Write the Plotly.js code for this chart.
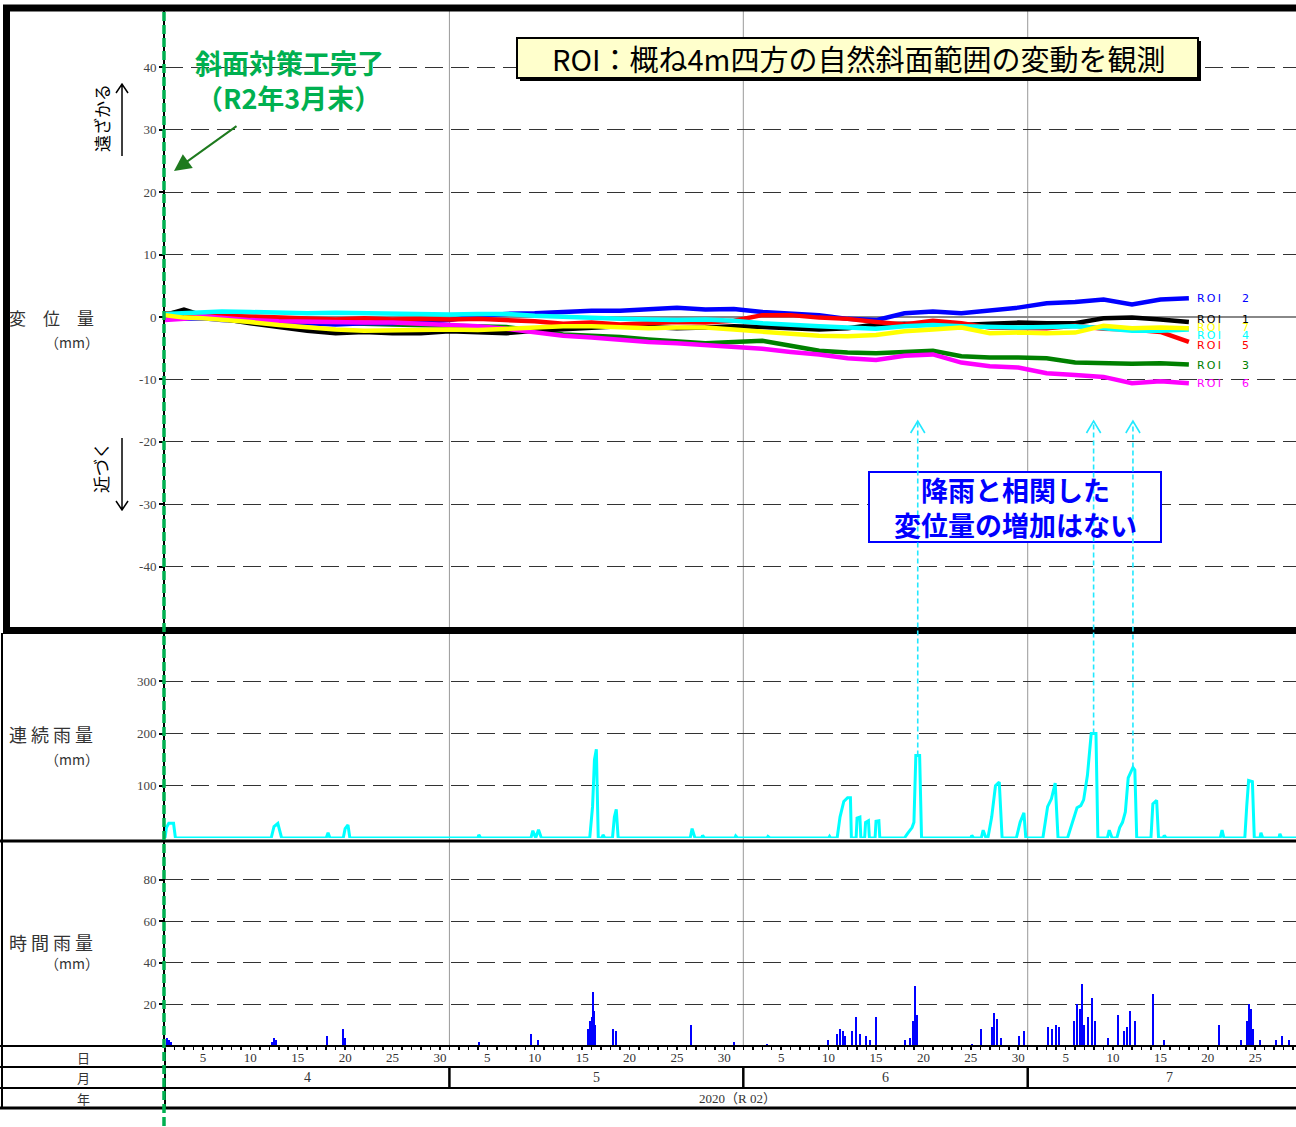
<!DOCTYPE html>
<html><head><meta charset="utf-8">
<script src="https://cdn.plot.ly/plotly-3.0.1.min.js"></script>
<style>html,body{margin:0;padding:0;background:#fff}#chart{width:1296px;height:1127px}</style>
</head><body><div id="chart"></div>
<script>
// ---------------- DATA ----------------
// day offsets from 2020-04-01 00:00
const roiDays = [0,2,4,6,9,12,15,18,21,24,27,30,33,36,39,42,45,48,51,54,57,60,63,66,69,72,75,78,81,84,87,90,93,96,99,102,105,108];
const roi1 = [0.3,1.2,0.2,-0.3,-1.0,-1.6,-2.2,-2.6,-2.4,-2.6,-2.6,-2.3,-2.4,-2.6,-2.2,-2.0,-1.8,-1.5,-1.6,-1.8,-1.7,-1.5,-1.6,-1.8,-2.0,-1.8,-1.2,-1.1,-1.2,-1.3,-1.1,-0.9,-1.0,-1.0,-0.2,-0.1,-0.4,-0.8];
const roi2 = [-0.3,-0.3,-0.2,-0.5,-0.8,-1.0,-1.0,-1.2,-1.0,-1.0,-0.8,-0.5,0.2,0.5,0.6,0.8,1.0,1.0,1.3,1.5,1.2,1.3,0.8,0.5,0.3,-0.3,-0.5,0.6,0.9,0.6,1.0,1.5,2.2,2.4,2.8,2.0,2.8,3.0];
const roi3 = [0.5,0.8,0.3,0.0,-0.3,-0.6,-0.8,-1.0,-1.1,-1.2,-1.3,-1.3,-1.4,-1.6,-2.2,-2.8,-3.0,-3.2,-3.6,-3.9,-4.2,-4.0,-3.8,-4.6,-5.4,-5.7,-5.8,-5.6,-5.4,-6.3,-6.5,-6.5,-6.6,-7.3,-7.4,-7.5,-7.4,-7.6];
const roi4 = [0.5,0.6,0.8,0.9,0.8,0.7,0.6,0.7,0.6,0.5,0.4,0.4,0.5,0.5,0.2,0.0,-0.2,-0.3,-0.4,-0.5,-0.4,-0.6,-1.0,-1.3,-1.5,-1.7,-1.9,-1.5,-1.3,-1.5,-1.6,-1.7,-1.6,-1.5,-1.8,-2.2,-2.2,-2.0];
const roi5 = [0.6,0.3,0.5,0.2,0.1,-0.1,-0.3,-0.4,-0.2,-0.4,-0.3,-0.4,-0.3,-0.5,-0.7,-1.1,-0.9,-1.2,-1.0,-0.8,-0.9,-0.6,0.3,0.3,-0.1,-0.3,-0.8,-1.2,-0.6,-1.0,-1.7,-1.8,-1.8,-1.4,-1.9,-2.0,-2.4,-4.0];
const roi6 = [-0.5,-0.3,0.1,-0.2,-0.5,-0.7,-0.8,-0.8,-0.9,-0.9,-1.1,-1.2,-1.5,-1.9,-2.5,-3.0,-3.3,-3.7,-4.0,-4.2,-4.5,-4.8,-5.1,-5.6,-6.0,-6.6,-6.9,-6.2,-6.0,-7.3,-7.9,-8.1,-9.0,-9.3,-9.6,-10.6,-10.3,-10.6];
const roi7 = [0.3,-0.1,-0.2,-0.4,-0.8,-1.3,-1.7,-2.0,-2.2,-2.1,-2.0,-2.0,-2.1,-1.9,-1.7,-1.5,-1.5,-1.6,-1.8,-1.7,-1.7,-2.0,-2.4,-2.7,-3.0,-3.1,-2.9,-2.3,-2.0,-1.7,-2.6,-2.5,-2.6,-2.5,-1.4,-1.8,-1.7,-1.8];
// end-label positions (mm), slightly spread so they stay readable
const roiLabelY = {'1': -0.4, '2': 2.9, '3': -7.7, '4': -3.0, '5': -4.5, '6': -10.7, '7': -1.7};

// continuous rainfall (mm)
const rainDays = [0,0.15,0.4,0.9,1.1, 11.2,11.5,11.9,12.3, 17.0,17.2,17.4, 18.8,19.0,19.3,19.5, 33.0,33.1,33.3,
  38.6,38.8,39.1,39.4,39.7, 44.8,45.1,45.3,45.5,45.7, 46.1,46.2,46.4, 47.2,47.4,47.6,47.8, 55.4,55.6,55.9,
  56.6,56.7,56.9, 60.1,60.2,60.4, 63.5,63.6,63.8, 70.0,70.1,70.2, 70.9,71.2,71.6,72.0,72.3,72.4,
  72.9,73.0,73.3,73.4, 73.8,73.9,74.2,74.3, 74.9,75.0,75.3,75.4, 78.0,78.3,78.8,79.0,79.2,79.6,79.8,
  85.0,85.1,85.3, 86.1,86.3,86.6, 86.8,87.2,87.6,88.0,88.3, 89.8,90.2,90.6,90.8, 92.6,93.1,93.5,93.9,94.2,
  95.2,95.6,96.0,96.2,96.6,96.9,97.3,97.7,98.2,98.4, 99.4,99.6,99.9,
  100.4,100.7,101.0,101.3,101.6,102.1,102.3,102.5, 104.0,104.2,104.6,104.8, 105.3,105.4,105.6,
  111.3,111.5,111.7, 113.9,114.1,114.3,114.7,114.9, 115.5,115.6,115.8, 117.5,117.6,117.8, 119.3];
const rainCont = [0,20,28,28,0, 0,22,28,0, 0,10,0, 0,18,25,0, 0,6,0,
  0,14,0,16,0, 0,60,150,170,0, 0,6,0, 0,40,55,0, 0,18,0,
  0,5,0, 0,4,0, 0,3,0, 0,3,0, 0,40,70,77,77,0,
  0,38,40,0, 0,30,33,0, 0,32,33,0, 0,8,20,30,158,158,0,
  0,5,0, 0,15,0, 0,40,100,107,0, 0,30,48,0, 0,60,75,105,0,
  0,25,45,58,62,73,120,200,200,0, 0,15,0,
  0,20,30,50,115,135,130,0, 0,65,72,0, 0,5,0,
  0,15,0, 0,60,110,108,0, 0,10,0, 0,8,0, 0];

// hourly rainfall (mm)
const hourDays = [0.21,0.42,0.63, 11.29,11.5,11.71, 17.09, 18.78,18.99, 33.12, 38.61,39.35,
  44.62,44.83,45.04,45.15,45.25,45.36, 47.26,47.57, 55.49, 60.02, 63.5, 69.94,
  70.89,71.2,71.52,71.73, 72.47,72.89,73.31,73.95,74.37,75.0, 78.06,78.59,78.9,79.11,79.32,
  85.13,86.08, 87.24,87.45,87.76,88.19, 90.08,90.61, 93.14,93.57,93.99,94.3,
  95.89,96.2,96.52,96.73,96.94,97.36,97.78,98.1, 99.47,100.53,101.16,101.48,101.79,102.32,
  104.22,105.38, 111.18,113.5,114.14,114.35,114.56,114.77, 115.51,117.19,117.83,118.57];
const hourMm = [4,3,2, 2,4,3, 5, 8,4, 2, 6,3,
  8,12,14,26,17,10, 8,7, 10, 2, 1, 3,
  6,8,7,5, 7,14,6,5,3,14, 3,4,12,29,15,
  1,8, 9,16,13,4, 5,7, 9,8,10,9,
  12,20,18,30,10,14,23,12, 4,15,7,9,17,12,
  25,3, 10,3,12,20,18,8, 3,3,5,3];

// axis / table labels
const monthLabels = ['4','5','6','7'];
const monthStart = [0,30,61,91];
const monthLen = [30,31,30,31];
const dispTicks = [-40,-30,-20,-10,0,10,20,30,40];
const contTicks = [100,200,300];
const hourTicks = [20,40,60,80];
const yearLabel = '2020（R 02）';
const arrowDays = [79.4, 97.95, 102.1];
const arrowFromMm = [158, 200, 135];

// ---------------- LAYOUT HELPERS ----------------
const W = 1296, H = 1127;
const px = x => x / W;
const py = y => 1 - y / H;
const XMAX = 119.3;

const tickvals = [], ticktext = [];
for (let m = 0; m < monthLabels.length; m++) {
  for (let k = 1; k <= monthLen[m]; k++) {
    const d = monthStart[m] + k - 1;
    if (d > XMAX) break;
    tickvals.push(d);
    ticktext.push(k % 5 === 0 ? String(k) : '');
  }
}

const series = [
  {v: roi3, c: '#008000', n: '3'},
  {v: roi2, c: '#0000FF', n: '2'},
  {v: roi1, c: '#000000', n: '1'},
  {v: roi5, c: '#FF0000', n: '5'},
  {v: roi6, c: '#FF00FF', n: '6'},
  {v: roi4, c: '#00FFFF', n: '4'},
  {v: roi7, c: '#FFFF00', n: '7'}
];

const traces = series.map(s => ({
  type: 'scatter', mode: 'lines', x: roiDays, y: s.v, xaxis: 'x', yaxis: 'y',
  line: {color: s.c, width: 4.5}, hoverinfo: 'skip'
}));
traces.push({type: 'scatter', mode: 'lines', x: rainDays, y: rainCont, xaxis: 'x', yaxis: 'y2',
  line: {color: '#00FFFF', width: 3}, hoverinfo: 'skip'});
traces.push({type: 'bar', x: hourDays, y: hourMm, xaxis: 'x', yaxis: 'y3', width: 0.13,
  marker: {color: '#0000FF', line: {width: 0}}, hoverinfo: 'skip'});

const tickFont = {family: 'Liberation Serif, DejaVu Serif, serif', size: 13, color: '#444'};
const yBase = {
  anchor: 'x', ticks: 'outside', ticklen: 4, tickwidth: 2, tickcolor: '#000',
  showline: true, linecolor: '#000', linewidth: 2, showgrid: true, gridcolor: '#333',
  griddash: '18px,8px', gridwidth: 1.2, tickfont: tickFont, fixedrange: true
};

const shapes = [];
const line = (x0, y0, x1, y1, color, width, extra) => Object.assign({
  type: 'line', xref: 'paper', yref: 'paper', x0: px(x0), y0: py(y0), x1: px(x1), y1: py(y1),
  line: {color: color, width: width}, layer: 'above'}, extra || {});
const pathStr = pts => pts.map((p, i) => (i ? 'L' : 'M') + px(p[0]).toFixed(5) + ',' + py(p[1]).toFixed(5)).join(' ');

// month grid lines
for (let m = 1; m < monthStart.length; m++) {
  shapes.push({type: 'line', xref: 'x', yref: 'paper', x0: monthStart[m], x1: monthStart[m],
    y0: py(1046), y1: py(11), line: {color: '#999', width: 1}, layer: 'below'});
}
// lower frame & table
shapes.push(line(2, 633, 2, 1108, '#000', 2));
shapes.push(line(0, 841, 1296, 841, '#000', 3));
shapes.push(line(0, 1046, 1296, 1046, '#000', 2));
shapes.push(line(0, 1067, 1296, 1067, '#000', 2));
shapes.push(line(0, 1088, 1296, 1088, '#000', 2));
shapes.push(line(0, 1108, 1296, 1108, '#000', 3));
shapes.push(line(165, 1046, 165, 1108, '#000', 2));
for (let m = 1; m < monthStart.length; m++) {
  shapes.push({type: 'line', xref: 'x', yref: 'paper', x0: monthStart[m], x1: monthStart[m],
    y0: py(1067), y1: py(1088), line: {color: '#000', width: 2.5}, layer: 'above'});
}
// thick frame around displacement panel
shapes.push({type: 'rect', xref: 'paper', yref: 'paper', x0: px(6.5), x1: px(1320), y0: py(630.5), y1: py(8),
  line: {color: '#000', width: 7}, fillcolor: 'rgba(0,0,0,0)', layer: 'above'});
// green dashed completion line
shapes.push(line(164, 12, 164, 1127, '#00B050', 3.5, {line: {color: '#00B050', width: 3.5, dash: '9px,4px'}}));
// yellow title box (shadow + box)
shapes.push({type: 'rect', xref: 'paper', yref: 'paper', x0: px(520), x1: px(1201), y0: py(81), y1: py(41),
  line: {width: 0}, fillcolor: '#000', layer: 'above'});
shapes.push({type: 'rect', xref: 'paper', yref: 'paper', x0: px(517), x1: px(1198), y0: py(78), y1: py(38),
  line: {color: '#000', width: 2}, fillcolor: '#FFFFCC', layer: 'above'});
// blue comment box
shapes.push({type: 'rect', xref: 'paper', yref: 'paper', x0: px(869), x1: px(1161), y0: py(542), y1: py(472),
  line: {color: '#0000FF', width: 2}, fillcolor: '#FFFFFF', layer: 'above'});
// direction arrows
shapes.push({type: 'path', xref: 'paper', yref: 'paper', path: pathStr([[122,156],[122,84]]) + ' ' + pathStr([[116,93],[122,84],[128,93]]),
  line: {color: '#000', width: 1.5}, layer: 'above'});
shapes.push({type: 'path', xref: 'paper', yref: 'paper', path: pathStr([[122,438],[122,510]]) + ' ' + pathStr([[116,501],[122,510],[128,501]]),
  line: {color: '#000', width: 1.5}, layer: 'above'});
// cyan dashed arrows from rainfall peaks
const y2Bottom = py(838), y2Top = py(629);
arrowDays.forEach((d, i) => {
  const yStart = y2Bottom + arrowFromMm[i] / 400 * (y2Top - y2Bottom);
  shapes.push({type: 'line', xref: 'x', yref: 'paper', x0: d, x1: d, y0: yStart, y1: py(421),
    line: {color: '#22E8FF', width: 1.6, dash: '5px,3px'}, layer: 'above'});
  shapes.push({type: 'path', xref: 'x', yref: 'paper',
    path: 'M' + (d - 0.75) + ',' + py(433) + ' L' + d + ',' + py(421) + ' L' + (d + 0.75) + ',' + py(433),
    line: {color: '#22E8FF', width: 1.6}, layer: 'above'});
});

const cjk = 'Noto Sans CJK JP, sans-serif';
const ann = [];
const txt = (x, y, text, font, extra) => Object.assign({xref: 'paper', yref: 'paper', x: px(x), y: py(y),
  text: text, showarrow: false, font: font, xanchor: 'center', yanchor: 'middle'}, extra || {});
const lblFont = {family: cjk, size: 17, color: '#333'};
const mmFont = {family: cjk, size: 14, color: '#333'};
ann.push(txt(51, 317, '変　位　量', lblFont));
ann.push(txt(72, 342, '（mm）', mmFont));
ann.push(txt(51, 734, '連 続 雨 量', {family: cjk, size: 18, color: '#333'}));
ann.push(txt(72, 759, '（mm）', mmFont));
ann.push(txt(51, 942, '時 間 雨 量', {family: cjk, size: 18, color: '#333'}));
ann.push(txt(72, 963, '（mm）', mmFont));
ann.push(txt(101, 118, '遠ざかる', {family: cjk, size: 17, color: '#000'}, {textangle: -90}));
ann.push(txt(101, 468, '近づく', {family: cjk, size: 17, color: '#000'}, {textangle: -90}));
// table row labels
const rowFont = {family: cjk, size: 13, color: '#333'};
ann.push(txt(83, 1057, '日', rowFont));
ann.push(txt(83, 1077, '月', rowFont));
ann.push(txt(83, 1098, '年', rowFont));
const serif = {family: 'Liberation Serif, DejaVu Serif, serif', size: 14, color: '#333'};
monthLabels.forEach((m, i) => {
  ann.push({xref: 'x', yref: 'paper', x: Math.min(monthStart[i] + monthLen[i] / 2, 106), y: py(1077), text: m,
    showarrow: false, font: serif, xanchor: 'center', yanchor: 'middle'});
});
ann.push(txt(737, 1098, yearLabel, {family: 'Liberation Serif, Noto Sans CJK JP, serif', size: 13, color: '#333'}));
// ROI labels at line ends
const lastDay = roiDays[roiDays.length - 1];
series.forEach(s => {
  ann.push({xref: 'x', yref: 'y', x: lastDay + 0.6, y: roiLabelY[s.n],
    text: 'R\u2009O\u2009I\u00A0\u00A0\u00A0\u00A0\u00A0\u00A0' + s.n,
    showarrow: false, xanchor: 'left', yanchor: 'middle',
    font: {family: 'DejaVu Sans, sans-serif', size: 11, color: s.c}});
});
// green annotation
const green = {family: cjk, size: 27, color: '#00B050', weight: 700};
ann.push(txt(289, 63, '<b>斜面対策工完了</b>', green));
ann.push(txt(288, 97, '<b>（R2年3月末）</b>', green));
ann.push({xref: 'paper', yref: 'paper', x: px(174), y: py(171), ax: 64, ay: -46, text: '', showarrow: true,
  arrowcolor: '#1E7A1E', arrowwidth: 2, arrowhead: 2, arrowsize: 1.7});
// title box text
ann.push(txt(858, 58, 'ROI：概ね4m四方の自然斜面範囲の変動を観測', {family: cjk, size: 29, color: '#000'}));
// blue box text
ann.push(txt(1015, 507, '<b>降雨と相関した</b><br><b>変位量の増加はない</b>', {family: cjk, size: 27, color: '#0000FF'}));

const layout = {
  width: W, height: H, margin: {l: 0, r: 0, t: 0, b: 0},
  paper_bgcolor: '#fff', plot_bgcolor: 'rgba(0,0,0,0)', showlegend: false,
  xaxis: {domain: [px(165), 1], range: [0, XMAX], anchor: 'y3', tickmode: 'array', tickvals: tickvals, ticktext: ticktext,
    ticks: 'outside', ticklen: 3, tickwidth: 1.5, tickcolor: '#000', showgrid: false, zeroline: false, showline: false,
    tickangle: 0, ticklabelstandoff: -4,
    tickfont: {family: 'Liberation Serif, DejaVu Serif, serif', size: 13, color: '#333'}, fixedrange: true},
  yaxis: Object.assign({}, yBase, {domain: [py(629), py(5)], range: [-50, 50], tickmode: 'array',
    tickvals: dispTicks, ticktext: dispTicks.map(String), zeroline: true, zerolinecolor: '#888', zerolinewidth: 1.5}),
  yaxis2: Object.assign({}, yBase, {domain: [py(838), py(629)], range: [0, 400], tickmode: 'array',
    tickvals: contTicks, ticktext: contTicks.map(String), zeroline: false}),
  yaxis3: Object.assign({}, yBase, {domain: [py(1046), py(838)], range: [0, 100], tickmode: 'array',
    tickvals: hourTicks, ticktext: hourTicks.map(String), zeroline: false}),
  shapes: shapes, annotations: ann, bargap: 0
};

Plotly.newPlot('chart', traces, layout, {staticPlot: true, displayModeBar: false});
</script></body></html>
